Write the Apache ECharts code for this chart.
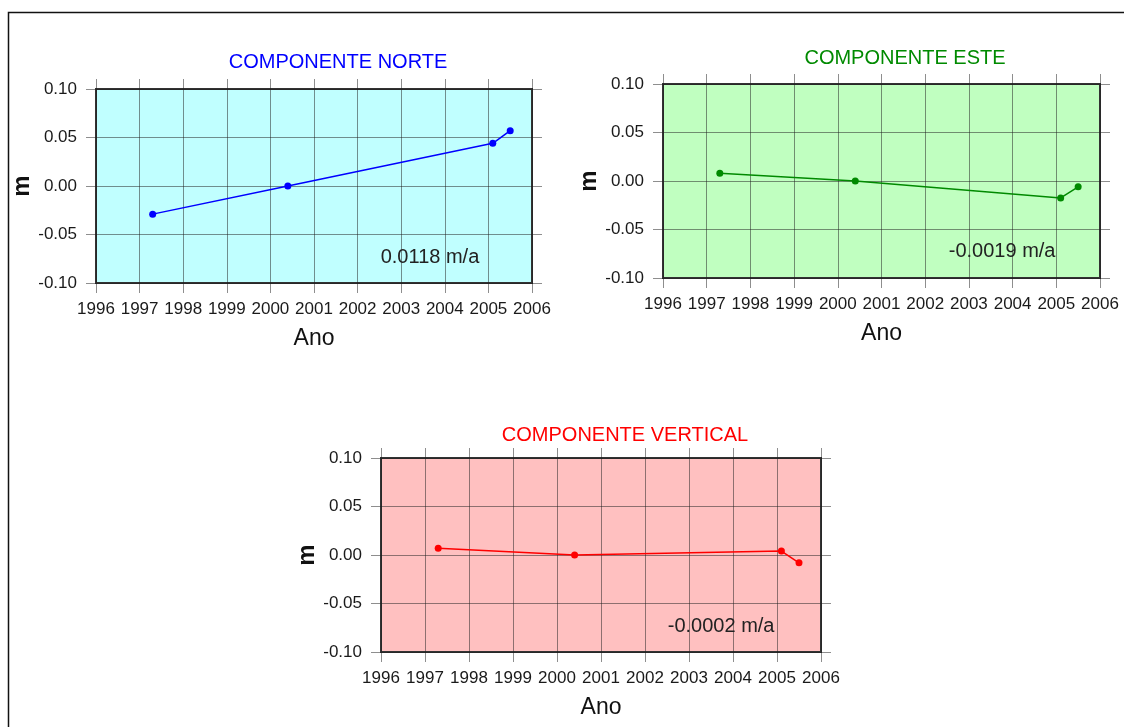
<!DOCTYPE html>
<html>
<head>
<meta charset="utf-8">
<script src="https://cdn.jsdelivr.net/npm/echarts@6/dist/echarts.min.js"></script>
<style>html,body{margin:0;padding:0;background:#fff}#c{width:1124px;height:727px}</style>
</head>
<body>
<div id="c"></div>
<script>
// ---- data ----
const titles = ['COMPONENTE NORTE', 'COMPONENTE ESTE', 'COMPONENTE VERTICAL'];
const years = [1997.3, 2000.4, 2005.1, 2005.5];
const norte = [-0.029, 0.0, 0.044, 0.057];
const este = [0.008, 0.0, -0.0175, -0.006];
const vertical = [0.007, 0.0, 0.004, -0.008];
const rates = ['0.0118 m/a', '-0.0019 m/a', '-0.0002 m/a'];
const rateAnchor = [[2003.66, -0.074], [2003.76, -0.073], [2003.73, -0.074]];
const xMin = 1996, xMax = 2006, xStep = 1;
const yMin = -0.10, yMax = 0.10, yStep = 0.05;
const xAxisName = 'Ano', yAxisName = 'm';

const seriesValues = [norte, este, vertical];
const colors = ['#0000ff', '#008a00', '#ff0000'];
const bgs = ['#c0ffff', '#c0ffc0', '#ffc0c0'];
const grids = [
  {left: 96, top: 89, width: 436, height: 194},
  {left: 663, top: 84, width: 437, height: 194},
  {left: 381, top: 458, width: 440, height: 194}
];
const titlePos = [[333, 47], [900, 43], [620, 420]];

const FONT = 'Liberation Sans, Arial, Helvetica, sans-serif';
const gridLine = 'rgba(30,30,30,0.5)';

const option = {
  animation: false,
  backgroundColor: '#fff',
  title: titles.map((t, i) => ({
    text: t, left: titlePos[i][0], top: titlePos[i][1], textAlign: 'center',
    textStyle: {color: colors[i], fontSize: 20, fontWeight: 'normal', fontFamily: FONT}
  })),
  grid: grids.map((g, i) => Object.assign({show: true, backgroundColor: bgs[i], borderColor: '#333', borderWidth: 2}, g)),
  xAxis: [], yAxis: [], series: [],
  graphic: [{
    type: 'rect', shape: {x: 8.5, y: 12.5, width: 1140, height: 740},
    style: {fill: 'none', stroke: '#111', lineWidth: 1.5}, z: 100
  }]
};

grids.forEach((g, i) => {
  const baseX = {
    type: 'value', gridIndex: i, min: xMin, max: xMax, interval: xStep,
    axisLine: {show: false, onZero: false},
    axisTick: {show: true, length: 10, lineStyle: {color: gridLine, width: 1}},
    splitLine: {show: false}
  };
  option.xAxis.push(Object.assign({}, baseX, {
    position: 'bottom',
    name: xAxisName, nameLocation: 'middle', nameGap: 44,
    nameTextStyle: {fontSize: 23, color: '#111', fontFamily: FONT},
    axisLabel: {fontSize: 17, color: '#1a1a1a', margin: 18, fontFamily: FONT, formatter: v => String(Math.round(v))},
    splitLine: {show: true, lineStyle: {color: gridLine, width: 1}}
  }));
  option.xAxis.push(Object.assign({}, baseX, {position: 'top', axisLabel: {show: false}}));
  const baseY = {
    type: 'value', gridIndex: i, min: yMin, max: yMax, interval: yStep,
    axisLine: {show: false, onZero: false},
    axisTick: {show: true, length: 10, lineStyle: {color: gridLine, width: 1}},
    splitLine: {show: false}
  };
  option.yAxis.push(Object.assign({}, baseY, {
    position: 'left',
    name: yAxisName, nameLocation: 'middle', nameGap: 62,
    nameTextStyle: {fontSize: 24, color: '#111', fontFamily: FONT, fontWeight: 'bold'},
    axisLabel: {fontSize: 17, color: '#1a1a1a', margin: 19, fontFamily: FONT, formatter: v => v.toFixed(2)},
    splitLine: {show: true, lineStyle: {color: gridLine, width: 1}}
  }));
  option.yAxis.push(Object.assign({}, baseY, {position: 'right', axisLabel: {show: false}}));
  option.series.push({
    type: 'line', xAxisIndex: 2 * i, yAxisIndex: 2 * i,
    data: years.map((y, k) => [y, seriesValues[i][k]]),
    symbol: 'circle', symbolSize: 7,
    lineStyle: {color: colors[i], width: 1.5},
    itemStyle: {color: colors[i]},
    markPoint: {
      symbol: 'circle', symbolSize: 0, silent: true,
      data: [{coord: rateAnchor[i], value: rates[i]}],
      label: {show: true, position: 'inside', formatter: rates[i], color: '#222', fontSize: 20, fontFamily: FONT}
    }
  });
});

const chart = echarts.init(document.getElementById('c'), null, {renderer: 'canvas'});
chart.setOption(option);
</script>
</body>
</html>
